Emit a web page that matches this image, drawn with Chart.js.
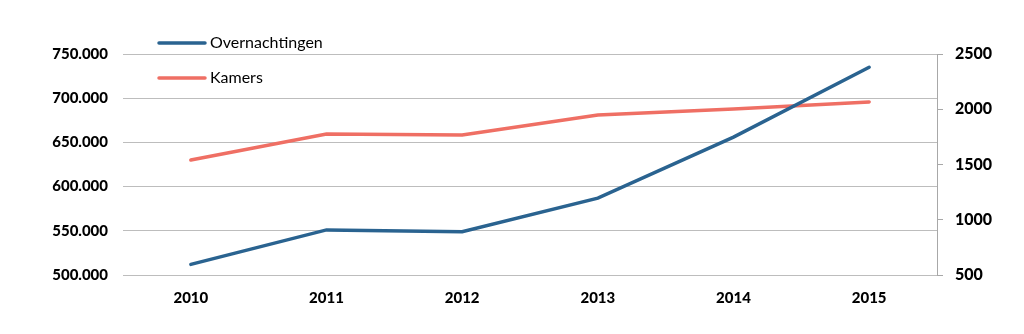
<!DOCTYPE html>
<html>
<head>
<meta charset="utf-8">
<script src="https://cdn.jsdelivr.net/npm/chart.js@4/dist/chart.umd.min.js"></script>
<style>
  html, body { margin: 0; padding: 0; background: #ffffff; }
  #wrap { width: 1024px; height: 334px; }
</style>
</head>
<body>
<div id="wrap"><canvas id="c" width="1024" height="334"></canvas></div>
<script>
const years = ['2010', '2011', '2012', '2013', '2014', '2015'];
const overnachtingen = [512000, 551000, 549000, 587000, 656000, 735000];
const kamers = [1540, 1775, 1768, 1948, 2002, 2066];
const leftTicks = [500000, 550000, 600000, 650000, 700000, 750000];
const rightTicks = [500, 1000, 1500, 2000, 2500];

const BLUE = '#2a6390';
const RED = '#ef6f64';
const GRID = '#bdbdbd';
const FONT = 'Lato, "Open Sans", "Liberation Sans", sans-serif';

function dots(v) {
  return String(v).replace(/\B(?=(\d{3})+(?!\d))/g, '.');
}

// legend drawn inside the plot, stacked vertically at the upper left
const stackedLegend = {
  id: 'stackedLegend',
  afterDraw(chart) {
    const ctx = chart.ctx;
    const rows = [43, 78];
    ctx.save();
    chart.data.datasets.forEach((ds, i) => {
      const y = rows[i];
      ctx.strokeStyle = ds.borderColor;
      ctx.lineWidth = 3.5;
      ctx.lineCap = 'round';
      ctx.beginPath();
      ctx.moveTo(159, y);
      ctx.lineTo(205, y);
      ctx.stroke();
      ctx.fillStyle = '#000000';
      ctx.font = '16px ' + FONT;
      ctx.textBaseline = 'middle';
      ctx.textAlign = 'left';
      ctx.fillText(ds.label, 210, y);
    });
    ctx.restore();
  }
};

new Chart(document.getElementById('c'), {
  type: 'line',
  data: {
    labels: years,
    datasets: [
      {
        label: 'Overnachtingen',
        data: overnachtingen,
        yAxisID: 'yLeft',
        borderColor: BLUE,
        backgroundColor: BLUE,
        borderWidth: 3.5,
        pointRadius: 0,
        tension: 0,
        borderCapStyle: 'round'
      },
      {
        label: 'Kamers',
        data: kamers,
        yAxisID: 'yRight',
        borderColor: RED,
        backgroundColor: RED,
        borderWidth: 3.5,
        pointRadius: 0,
        tension: 0,
        borderCapStyle: 'round'
      }
    ]
  },
  options: {
    responsive: false,
    animation: false,
    devicePixelRatio: 1,
    layout: { padding: { top: 54, left: 0, right: 0, bottom: 0 } },
    plugins: {
      legend: { display: false },
      tooltip: { enabled: false }
    },
    scales: {
      x: {
        offset: true,
        grid: { display: false, drawTicks: false },
        border: { display: false },
        ticks: {
          color: '#000000',
          font: { family: FONT, size: 15, weight: '900' },
          padding: 14
        },
        afterFit(scale) { scale.height = 59; }
      },
      yLeft: {
        position: 'left',
        min: 500000,
        max: 750000,
        afterBuildTicks(scale) { scale.ticks = leftTicks.map(v => ({ value: v })); },
        grid: { color: GRID, lineWidth: 1, drawTicks: false },
        border: { display: false },
        ticks: {
          color: '#000000',
          font: { family: FONT, size: 15, weight: '900' },
          padding: 15,
          callback: v => dots(v)
        },
        afterFit(scale) { scale.width = 123; }
      },
      yRight: {
        position: 'right',
        min: 500,
        max: 2500,
        afterBuildTicks(scale) { scale.ticks = rightTicks.map(v => ({ value: v })); },
        grid: {
          drawOnChartArea: false,
          drawTicks: true,
          tickLength: 6,
          tickColor: '#a8a8a8',
          color: '#a8a8a8'
        },
        border: { display: true, color: '#a8a8a8', width: 1 },
        ticks: {
          color: '#000000',
          font: { family: FONT, size: 16, weight: '900' },
          padding: 12,
          callback: v => String(v)
        },
        afterFit(scale) { scale.width = 87; }
      }
    }
  },
  plugins: [stackedLegend]
});
</script>
</body>
</html>
